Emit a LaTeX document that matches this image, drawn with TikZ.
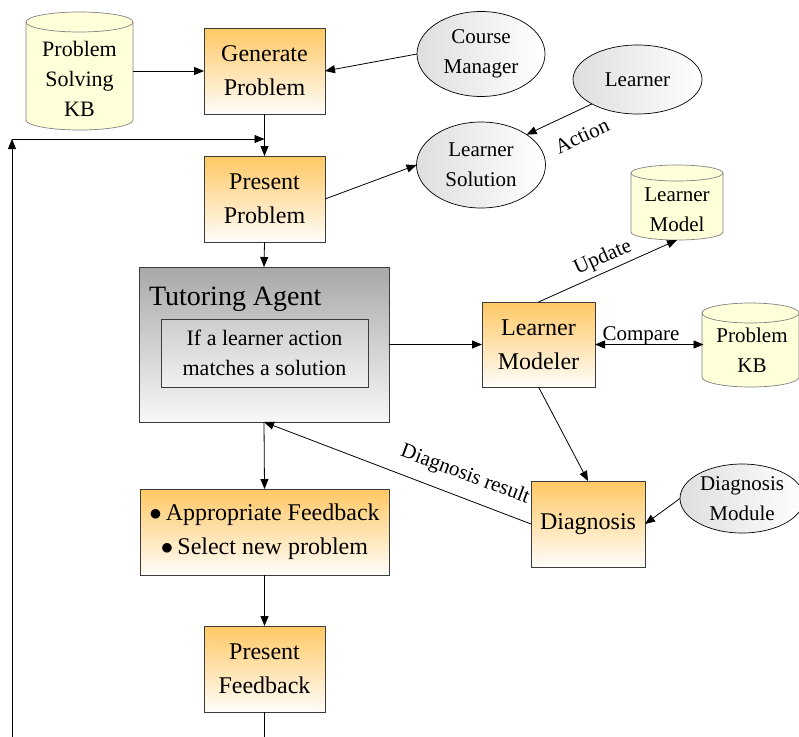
\documentclass[tikz,border=0pt]{standalone}
\usepackage{fontspec}
\setmainfont{Liberation Serif}
\usetikzlibrary{arrows.meta,shapes.geometric,calc}
\definecolor{boxtop}{RGB}{255,200,100}
\definecolor{boxbot}{RGB}{255,253,250}
\definecolor{tuttop}{RGB}{168,168,168}
\definecolor{tutbot}{RGB}{248,248,248}
\definecolor{intop}{RGB}{205,205,205}
\definecolor{inbot}{RGB}{240,240,240}
\definecolor{ellgray}{RGB}{222,222,222}
\definecolor{cylfill}{RGB}{255,255,218}
\definecolor{cylline}{RGB}{130,130,130}
\definecolor{boxline}{RGB}{60,60,60}
\newcommand{\drawcyl}[5]{%
  \pgfmathsetmacro{\cylhw}{(#3-#1)/2}%
  \draw[cylstyle] (#1,-#2-#5) -- (#1,-#4+#5)
    arc[start angle=180,end angle=360,x radius=\cylhw pt,y radius=#5pt]
    -- (#3,-#2-#5)
    arc[start angle=0,end angle=180,x radius=\cylhw pt,y radius=#5pt] -- cycle;
  \draw[cylstyle,fill=none] (#1,-#2-#5)
    arc[start angle=180,end angle=360,x radius=\cylhw pt,y radius=#5pt];
}
\begin{document}
\begin{tikzpicture}[x=1pt,y=1pt,
  every node/.style={inner sep=0pt,outer sep=0pt},
  boxtext/.style={font=\rmfamily\fontsize{24}{34}\selectfont,align=center},
  elltext/.style={font=\rmfamily\fontsize{21}{30}\selectfont,align=center},
  lbl/.style={font=\rmfamily\fontsize{21}{25}\selectfont},
  procbox/.style={draw=boxline,line width=0.8pt,top color=boxtop,bottom color=boxbot,boxtext},
  ell/.style={ellipse,draw=black,line width=0.7pt,left color=ellgray,right color=white,elltext},
  cylstyle/.style={draw=cylline,line width=0.7pt,fill=cylfill},
  arr/.style={draw=black,line width=0.8pt,-{Triangle[length=10pt,width=8pt]}},
  darr/.style={draw=black,line width=0.8pt,{Triangle[length=10pt,width=8pt]}-{Triangle[length=10pt,width=8pt]}},
  ln/.style={draw=black,line width=0.8pt}]
\useasboundingbox (0,0) rectangle (799,-736);
\fill[white] (0,0) rectangle (799,-736);
\clip (0,0) rectangle (799,-736);

% cylinders
\drawcyl{26}{12}{133}{130}{10}
\node[elltext,font=\rmfamily\fontsize{22}{30}\selectfont,minimum width=107] (pskb) at (79.5,-79) {Problem\\Solving\\KB};
\drawcyl{631}{165}{723}{240}{8}
\node[elltext,minimum width=92,minimum height=61] (lmodel) at (677,-209.5) {Learner\\Model};
\drawcyl{702}{303}{799}{387}{10}
\node[elltext,minimum width=97] (pkb) at (752,-350) {Problem\\KB};

% process boxes
\node[procbox,minimum width=121,minimum height=86] (gen) at (264.5,-71) {Generate\\Problem};
\node[procbox,minimum width=121,minimum height=86] (pp) at (264.5,-199) {Present\\Problem};
\node[draw=boxline,line width=0.8pt,top color=tuttop,bottom color=tutbot,minimum width=250,minimum height=155] (tut) at (264,-344.5) {};
\node[anchor=base west,font=\rmfamily\fontsize{28}{32}\selectfont] (tuttitle) at (149,-305) {Tutoring Agent};
\node[draw=boxline,line width=0.7pt,top color=intop,bottom color=inbot,minimum width=207,minimum height=68,font=\rmfamily\fontsize{22}{30}\selectfont,align=center] (inner) at (264.5,-353) {If a learner action\\matches a solution};
\node[procbox,minimum width=113,minimum height=85] (lm) at (538.5,-344.5) {Learner\\Modeler};
\node[procbox,minimum width=114,minimum height=86] (diag) at (588,-524) {Diagnosis};
\node[procbox,minimum width=249,minimum height=86] (af) at (264.5,-532) {$\bullet$\,Appropriate Feedback\\$\bullet$\,Select new problem};
\node[procbox,minimum width=121,minimum height=86] (pf) at (264.5,-669) {Present\\Feedback};

% ellipses
\node[ell,minimum width=128,minimum height=85] (cm) at (481,-54) {Course\\Manager};
\node[ell,minimum width=129,minimum height=86] (ls) at (481,-165) {Learner\\Solution};
\node[ell,minimum width=129,minimum height=69] (learner) at (637.5,-79.5) {Learner};
\node[ell,minimum width=124,minimum height=69] (dm) at (742,-498.5) {Diagnosis\\Module};

% labels
\node[lbl,rotate=25] (actlbl) at (582,-136) {Action};
\node[lbl,rotate=24] (updlbl) at (603,-258) {Update};
\node[lbl,anchor=base] (cmplbl) at (641,-340) {Compare};
\node[lbl,rotate=-20.5] (dglbl) at (465,-475) {Diagnosis result};

% connectors
\draw[arr] (gen.west -| pskb.east) -- (gen.west);
\draw[arr] (cm.west) -- (gen.east);
\draw[arr] (gen.south) -- (pp.north);
\draw[arr] (pp.east) -- (ls.west);
\draw[arr] (learner.south west) -- (ls.north east);
\draw[arr] (pp.south) -- (tut.north);
\draw[arr] (tut.east |- lm.west) -- (lm.west);
\draw[arr] (lm.north) -- (lmodel.south);
\draw[darr] (lm.east) -- (lm.east -| pkb.west);
\draw[arr] (lm.south) -- (diag.north);
\draw[arr] (dm.west) -- (diag.east);
\draw[arr] (diag.west) -- (tut.south);
\draw[arr] (tut.south) -- (af.north);
\draw[arr] (af.south) -- (pf.north);

% feedback loop
\coordinate (lt) at (12,-139);
\coordinate (lb) at (12,-760);
\draw[ln] (pf.south) -- (pf.south |- lb) -- (lb);
\draw[arr] (lb) -- (lt);
\draw[arr] (lt) -- (lt -| pp.north);
\end{tikzpicture}
\end{document}
